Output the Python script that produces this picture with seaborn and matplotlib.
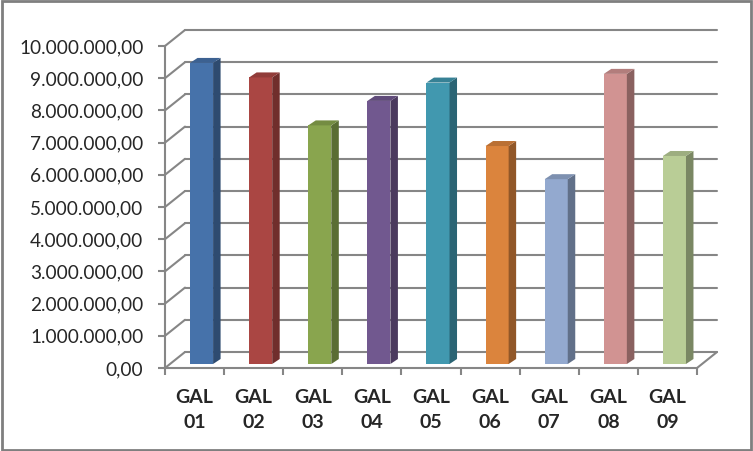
import numpy as np
import seaborn as sns
import matplotlib.pyplot as plt
from matplotlib.patches import Polygon, Rectangle
from matplotlib.colors import to_rgb
from matplotlib.transforms import ScaledTranslation

# data
labels = ['GAL\n01', 'GAL\n02', 'GAL\n03', 'GAL\n04', 'GAL\n05',
          'GAL\n06', 'GAL\n07', 'GAL\n08', 'GAL\n09']
values = [9350000, 8900000, 7410000, 8170000, 8740000,
          6770000, 5740000, 9010000, 6460000]
yticks = [0, 1000000, 2000000, 3000000, 4000000, 5000000,
          6000000, 7000000, 8000000, 9000000, 10000000]
colors = ['#4672AA', '#AA4643', '#89A54E', '#71588F', '#4198AF',
          '#DB843D', '#93A9CF', '#D19392', '#B9CD96']

sns.set_style('white')
plt.rcParams['font.family'] = ['Lato', 'DejaVu Sans']

W, H = 753, 451
fig = plt.figure(figsize=(W / 100, H / 100), dpi=100)
ax = fig.add_axes([165 / W, 1 - 368 / H, 532 / W, 322 / H])

sns.barplot(x=labels, y=values, hue=labels, palette=colors, width=0.39,
            saturation=1, legend=False, ax=ax, zorder=3)
ax.set_xlim(-0.5, len(labels) - 0.5)
ax.set_ylim(0, 10000000)

# pixel -> data conversions
px_x = (len(labels)) / 532
px_y = 10000000 / 322
grid_c = '#868686'

# back wall offset for the fake 3d look
bx, by = 20 * px_x, 16 * px_y
for v in yticks:
    ax.plot([-0.5, -0.5 + bx], [v, v + by], color=grid_c, lw=1.5, clip_on=False, zorder=1)
    ax.plot([-0.5 + bx, len(labels) - 0.5 + bx], [v + by, v + by],
            color=grid_c, lw=1.5, clip_on=False, zorder=1)
ax.plot([len(labels) - 0.5, len(labels) - 0.5 + bx], [0, by], color=grid_c, lw=1.5,
        clip_on=False, zorder=1)

# move bars back a bit and add side / top faces
off = ScaledTranslation(0.07, 0.04, fig.dpi_scale_trans)
sx, sy = 7.5 * px_x, 5 * px_y
for bar, c in zip(ax.patches, colors):
    bar.set_transform(ax.transData + off)
    bar.set_edgecolor('none')
    x0, w, h = bar.get_x(), bar.get_width(), bar.get_height()
    rgb = np.array(to_rgb(c))
    side = Polygon([[x0 + w, 0], [x0 + w + sx, sy], [x0 + w + sx, h + sy], [x0 + w, h]],
                   closed=True, facecolor=rgb * 0.66, edgecolor='none',
                   transform=ax.transData + off, clip_on=False, zorder=3)
    top = Polygon([[x0, h], [x0 + sx, h + sy], [x0 + w + sx, h + sy], [x0 + w, h]],
                  closed=True, facecolor=rgb * 0.85, edgecolor='none',
                  transform=ax.transData + off, clip_on=False, zorder=3)
    ax.add_patch(side)
    ax.add_patch(top)
    bar.set_clip_on(False)

for s in ['top', 'right']:
    ax.spines[s].set_visible(False)
for s in ['left', 'bottom']:
    ax.spines[s].set_color(grid_c)
    ax.spines[s].set_linewidth(1.5)

ax.set_yticks(yticks)
ax.set_yticklabels([f'{v:,.2f}'.replace(',', 'X').replace('.', ',').replace('X', '.')
                    for v in yticks], fontsize=13.7)
ax.tick_params(axis='y', left=True, length=5, width=1.5, color=grid_c, pad=10.5)
ax.set_xticks(np.arange(-0.5, len(labels)), minor=True)
ax.tick_params(axis='x', which='minor', bottom=True, length=5, width=1.5, color=grid_c)
ax.tick_params(axis='x', which='major', bottom=False, pad=11.5)
for t in ax.get_xticklabels():
    t.set_fontweight('bold')
    t.set_fontsize(14)
    t.set_linespacing(1.55)
ax.set_xlabel('')
ax.set_ylabel('')

fig.patches.append(Rectangle((0.002, 0.003), 0.995, 0.994, transform=fig.transFigure,
                             fill=False, edgecolor='#7F7F7F', lw=2))

fig.savefig('out.png', dpi=100)
